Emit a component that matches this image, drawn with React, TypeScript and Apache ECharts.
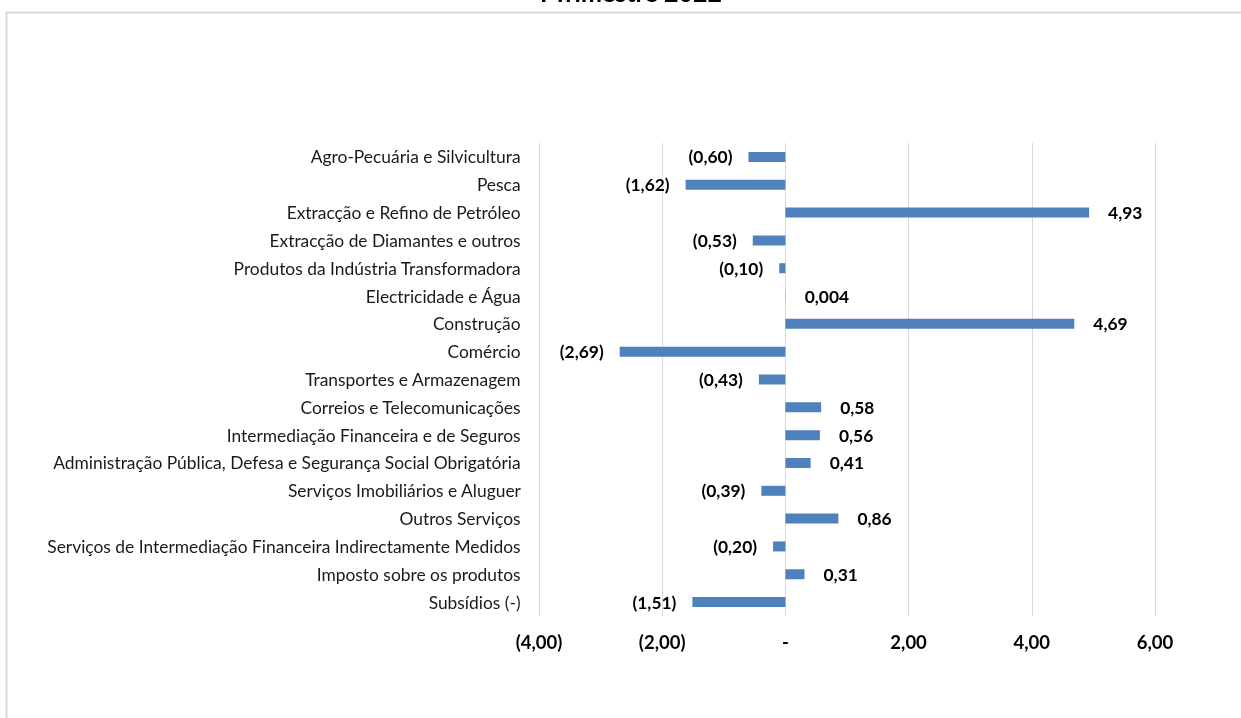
import React, { useEffect, useRef } from "react";
import * as echarts from "echarts";

const categories = [
  "Agro-Pecuária e Silvicultura ",
  "Pesca ",
  "Extracção e Refino de Petróleo ",
  "Extracção de Diamantes e outros ",
  "Produtos da Indústria Transformadora ",
  "Electricidade e Água ",
  "Construção ",
  "Comércio ",
  "Transportes e Armazenagem ",
  "Correios e Telecomunicações ",
  "Intermediação Financeira e de Seguros ",
  "Administração Pública, Defesa e Segurança Social Obrigatória ",
  "Serviços Imobiliários e Aluguer ",
  "Outros Serviços ",
  "Serviços de Intermediação Financeira Indirectamente Medidos ",
  "Imposto sobre os produtos ",
  "Subsídios (-) ",
];

const values = [
  -0.6, -1.62, 4.93, -0.53, -0.1, 0.004, 4.69, -2.69, -0.43, 0.58, 0.56, 0.41,
  -0.39, 0.86, -0.2, 0.31, -1.51,
];

const titleText = "I Trimestre 2022";

const fmt = (v: number, dec: number) => {
  if (v === 0) return "-";
  const s = Math.abs(v).toFixed(dec).replace(".", ",");
  return v < 0 ? `(${s})` : s;
};

export default function App() {
  const ref = useRef<HTMLDivElement>(null);
  useEffect(() => {
    if (!ref.current) return;
    const chart = echarts.init(ref.current, undefined, { renderer: "svg" });
    const font = "Lato";
    chart.setOption({
      animation: false,
      textStyle: { fontFamily: font },
      graphic: [
        {
          type: "rect",
          shape: { x: 6.5, y: 12.5, width: 1400, height: 900 },
          style: { fill: "none", stroke: "#d9d9d9", lineWidth: 2 },
          silent: true,
        },
        {
          type: "text",
          x: 631,
          y: 4,
          style: {
            text: titleText,
            font: `bold 25px ${font}`,
            fill: "#000",
            textAlign: "center",
            textVerticalAlign: "bottom",
          },
        },
      ],
      grid: { left: 539, right: 86, top: 143, bottom: 102, containLabel: false },
      xAxis: {
        type: "value",
        min: -4,
        max: 6,
        interval: 2,
        axisLine: { show: false },
        axisTick: { show: false },
        splitLine: { lineStyle: { color: "#d9d9d9", width: 1 } },
        axisLabel: {
          margin: 16,
          fontSize: 18.5,
          fontWeight: "bold",
          color: "#000",
          fontFamily: font,
          formatter: (v: number) => fmt(v, 2),
        },
      },
      yAxis: {
        type: "category",
        inverse: true,
        data: categories,
        axisLine: { show: false },
        axisTick: { show: false },
        axisLabel: { margin: 14, fontSize: 17.4, color: "#1a1a1a", fontFamily: font },
      },
      series: [
        {
          type: "bar",
          barWidth: 10,
          itemStyle: { color: "#4f81bd" },
          data: values.map((v) => ({
            value: v,
            label: {
              show: true,
              position: v < 0 ? "left" : "right",
              distance: v < 0 ? 16 : 19,
              fontSize: 17.4,
              fontWeight: "bold",
              color: "#000",
              fontFamily: font,
              formatter: () => fmt(v, Math.abs(v) < 0.01 ? 3 : 2),
            },
          })),
        },
      ],
    });
    return () => chart.dispose();
  }, []);
  return (
    <div
      ref={ref}
      style={{ position: "fixed", left: 0, top: 0, width: 1241, height: 718 }}
    />
  );
}
